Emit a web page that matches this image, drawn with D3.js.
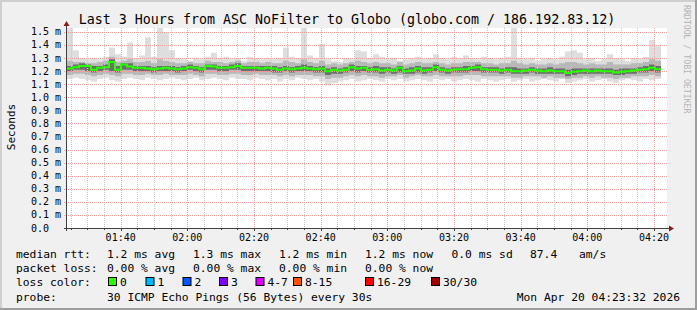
<!DOCTYPE html>
<html>
<head>
<meta charset="utf-8">
<script src="https://cdn.jsdelivr.net/npm/d3@7"></script>
<style>
  body { margin: 0; background: #f0f0f0; }
  svg { display: block; }
  text { font-family: "DejaVu Sans Mono", monospace; fill: #000; }
</style>
</head>
<body>
<div id="chart"></div>
<script>
// time window (UTC) and RRD step in seconds
const startTime = Date.UTC(2026, 3, 20, 1, 23, 54);
const spanSec = 3 * 3600;
const stepSec = 108;

// median rtt in ms
const median = [
  1.22, 1.23, 1.24, 1.24, 1.21, 1.225, 1.23, 1.27, 1.21, 1.25,
  1.235, 1.225, 1.225, 1.22, 1.215, 1.22, 1.225, 1.22, 1.215, 1.22,
  1.23, 1.225, 1.215, 1.24, 1.235, 1.225, 1.225, 1.23, 1.24, 1.225,
  1.225, 1.225, 1.22, 1.225, 1.22, 1.21, 1.22, 1.215, 1.22, 1.225,
  1.22, 1.215, 1.22, 1.20, 1.21, 1.205, 1.21, 1.23, 1.22, 1.225,
  1.21, 1.215, 1.205, 1.21, 1.205, 1.225, 1.20, 1.205, 1.22, 1.205,
  1.21, 1.23, 1.21, 1.205, 1.21, 1.215, 1.215, 1.225, 1.23, 1.215,
  1.21, 1.21, 1.205, 1.21, 1.20, 1.20, 1.205, 1.21, 1.205, 1.20,
  1.205, 1.20, 1.20, 1.185, 1.195, 1.20, 1.205, 1.20, 1.205, 1.20,
  1.20, 1.19, 1.195, 1.20, 1.205, 1.21, 1.215, 1.225, 1.215
];
// smoke: slowest / fastest ping
const pingMax = [
  1.53, 1.36, 1.30, 1.29, 1.30, 1.29, 1.31, 1.38, 1.33, 1.31,
  1.42, 1.30, 1.32, 1.46, 1.31, 1.53, 1.50, 1.36, 1.30, 1.29,
  1.28, 1.30, 1.29, 1.31, 1.34, 1.30, 1.31, 1.29, 1.30, 1.28,
  1.31, 1.30, 1.29, 1.30, 1.29, 1.30, 1.38, 1.31, 1.30, 1.53,
  1.32, 1.30, 1.41, 1.29, 1.28, 1.27, 1.30, 1.29, 1.36, 1.35,
  1.30, 1.33, 1.31, 1.29, 1.30, 1.28, 1.29, 1.30, 1.31, 1.29,
  1.30, 1.33, 1.30, 1.29, 1.31, 1.30, 1.32, 1.30, 1.29, 1.31,
  1.30, 1.29, 1.30, 1.31, 1.53, 1.30, 1.29, 1.30, 1.28, 1.29,
  1.30, 1.29, 1.31, 1.35, 1.36, 1.34, 1.29, 1.30, 1.28, 1.29,
  1.33, 1.30, 1.29, 1.28, 1.30, 1.29, 1.31, 1.44, 1.39
];
const pingMin = [
  1.14, 1.15, 1.14, 1.13, 1.12, 1.14, 1.15, 1.13, 1.12, 1.14,
  1.15, 1.14, 1.13, 1.15, 1.14, 1.13, 1.14, 1.15, 1.14, 1.13,
  1.14, 1.15, 1.13, 1.14, 1.15, 1.14, 1.13, 1.15, 1.14, 1.14,
  1.13, 1.15, 1.14, 1.13, 1.14, 1.12, 1.14, 1.13, 1.15, 1.14,
  1.13, 1.14, 1.12, 1.09, 1.11, 1.12, 1.13, 1.14, 1.12, 1.13,
  1.14, 1.13, 1.12, 1.14, 1.13, 1.14, 1.12, 1.13, 1.14, 1.13,
  1.12, 1.14, 1.13, 1.14, 1.12, 1.13, 1.14, 1.13, 1.12, 1.14,
  1.13, 1.12, 1.13, 1.14, 1.12, 1.13, 1.14, 1.12, 1.13, 1.14,
  1.13, 1.12, 1.14, 1.11, 1.12, 1.13, 1.14, 1.12, 1.13, 1.14,
  1.12, 1.11, 1.13, 1.14, 1.13, 1.12, 1.14, 1.13, 1.14
];
// smoke: ~10th / 90th percentile pings
const pingP90 = [
  1.28, 1.27, 1.27, 1.26, 1.26, 1.27, 1.28, 1.31, 1.27, 1.28,
  1.29, 1.27, 1.27, 1.28, 1.26, 1.29, 1.28, 1.27, 1.26, 1.26,
  1.27, 1.26, 1.26, 1.28, 1.27, 1.27, 1.26, 1.27, 1.28, 1.26,
  1.27, 1.27, 1.26, 1.27, 1.26, 1.26, 1.28, 1.27, 1.26, 1.29,
  1.27, 1.26, 1.28, 1.25, 1.26, 1.25, 1.26, 1.27, 1.28, 1.27,
  1.26, 1.27, 1.26, 1.26, 1.25, 1.27, 1.25, 1.26, 1.27, 1.26,
  1.26, 1.27, 1.26, 1.25, 1.26, 1.26, 1.27, 1.27, 1.27, 1.26,
  1.26, 1.25, 1.26, 1.26, 1.28, 1.26, 1.25, 1.26, 1.25, 1.25,
  1.26, 1.25, 1.26, 1.27, 1.27, 1.26, 1.25, 1.26, 1.25, 1.25,
  1.27, 1.25, 1.25, 1.25, 1.26, 1.26, 1.27, 1.29, 1.28
];
const pingP10 = [
  1.17, 1.18, 1.18, 1.17, 1.16, 1.17, 1.18, 1.17, 1.16, 1.18,
  1.18, 1.17, 1.17, 1.18, 1.17, 1.17, 1.18, 1.17, 1.17, 1.17,
  1.18, 1.17, 1.16, 1.18, 1.18, 1.17, 1.17, 1.18, 1.18, 1.17,
  1.17, 1.18, 1.17, 1.17, 1.17, 1.16, 1.17, 1.16, 1.17, 1.17,
  1.17, 1.16, 1.16, 1.14, 1.15, 1.15, 1.16, 1.17, 1.16, 1.17,
  1.16, 1.16, 1.15, 1.16, 1.16, 1.17, 1.15, 1.16, 1.17, 1.16,
  1.16, 1.17, 1.16, 1.16, 1.16, 1.16, 1.17, 1.17, 1.17, 1.16,
  1.16, 1.16, 1.16, 1.16, 1.15, 1.15, 1.16, 1.16, 1.16, 1.15,
  1.16, 1.15, 1.15, 1.14, 1.15, 1.15, 1.16, 1.15, 1.16, 1.15,
  1.15, 1.14, 1.15, 1.15, 1.16, 1.16, 1.16, 1.17, 1.16
];
// smoke: ~25th / 75th percentile pings
const pingP75 = [
  1.24, 1.25, 1.26, 1.25, 1.24, 1.24, 1.25, 1.29, 1.24, 1.26,
  1.26, 1.24, 1.24, 1.24, 1.23, 1.24, 1.24, 1.24, 1.23, 1.24,
  1.25, 1.24, 1.23, 1.25, 1.25, 1.24, 1.24, 1.25, 1.26, 1.24,
  1.24, 1.24, 1.24, 1.24, 1.24, 1.23, 1.24, 1.23, 1.24, 1.25,
  1.24, 1.23, 1.24, 1.22, 1.23, 1.22, 1.23, 1.25, 1.24, 1.24,
  1.23, 1.24, 1.23, 1.23, 1.22, 1.24, 1.22, 1.23, 1.24, 1.23,
  1.23, 1.25, 1.23, 1.22, 1.23, 1.23, 1.24, 1.24, 1.25, 1.23,
  1.23, 1.23, 1.22, 1.23, 1.23, 1.22, 1.22, 1.23, 1.22, 1.22,
  1.23, 1.22, 1.22, 1.21, 1.22, 1.22, 1.22, 1.22, 1.22, 1.22,
  1.22, 1.21, 1.22, 1.22, 1.22, 1.23, 1.24, 1.25, 1.24
];
const pingP25 = [
  1.20, 1.21, 1.21, 1.20, 1.19, 1.20, 1.21, 1.20, 1.19, 1.21,
  1.21, 1.20, 1.20, 1.20, 1.19, 1.20, 1.20, 1.20, 1.19, 1.20,
  1.21, 1.20, 1.19, 1.21, 1.21, 1.20, 1.20, 1.21, 1.21, 1.20,
  1.20, 1.20, 1.20, 1.20, 1.19, 1.19, 1.20, 1.19, 1.20, 1.20,
  1.20, 1.19, 1.19, 1.17, 1.18, 1.18, 1.19, 1.20, 1.19, 1.20,
  1.19, 1.19, 1.18, 1.19, 1.18, 1.19, 1.18, 1.18, 1.19, 1.18,
  1.19, 1.20, 1.19, 1.18, 1.19, 1.19, 1.19, 1.20, 1.20, 1.19,
  1.19, 1.19, 1.18, 1.19, 1.18, 1.18, 1.18, 1.19, 1.18, 1.18,
  1.18, 1.18, 1.18, 1.16, 1.17, 1.18, 1.18, 1.18, 1.18, 1.18,
  1.18, 1.17, 1.17, 1.18, 1.18, 1.19, 1.19, 1.20, 1.19
];

const yTickValues = [0, 0.1, 0.2, 0.3, 0.4, 0.5, 0.6, 0.7, 0.8, 0.9, 1.0, 1.1, 1.2, 1.3, 1.4, 1.5];

const statsRtt = ["1.2 ms avg", "1.3 ms max", "1.2 ms min", "1.2 ms now", "0.0 ms sd"];
const statsLoss = ["0.00 % avg", "0.00 % max", "0.00 % min", "0.00 % now"];
const amsValue = "87.4";
const lossLabels = ["0", "1", "2", "3", "4-7", "8-15", "16-29", "30/30"];
const lossColors = ["#26ff00", "#00b8ff", "#0059ff", "#7e00ff", "#dd00ff", "#ff5500", "#ff0000", "#a10000"];
const probeText = "30 ICMP Echo Pings (56 Bytes) every 30s";
const stampText = "Mon Apr 20 04:23:32 2026";
const titleText = "Last 3 Hours from ASC NoFilter to Globo (globo.com / 186.192.83.12)";

const W = 697, H = 310;
const plot = { left: 67, right: 667, top: 28, bottom: 228 };

const svg = d3.select("#chart").append("svg")
  .attr("width", W).attr("height", H);

// background and 3d frame
svg.append("rect").attr("width", W).attr("height", H).attr("fill", "#f0f0f0");
svg.append("path").attr("d", `M0,${H} V0 H${W}`).attr("fill", "none")
  .attr("stroke", "#cfcfcf").attr("stroke-width", 4);
svg.append("path").attr("d", `M0,${H} H${W} V0`).attr("fill", "none")
  .attr("stroke", "#9e9e9e").attr("stroke-width", 4);

svg.append("rect")
  .attr("x", plot.left).attr("y", plot.top)
  .attr("width", plot.right - plot.left).attr("height", plot.bottom - plot.top)
  .attr("fill", "#fff");

const x = d3.scaleUtc()
  .domain([new Date(startTime), new Date(startTime + spanSec * 1000)])
  .range([plot.left, plot.right]);
const y = d3.scaleLinear()
  .domain([0, 1.53])
  .range([plot.bottom, plot.top]);

// rows, plus one closing point so the last step has width
const rows = median.map((m, i) => ({
  t: new Date(startTime + i * stepSec * 1000),
  med: m, max: pingMax[i], min: pingMin[i],
  p90: pingP90[i], p10: pingP10[i], p75: pingP75[i], p25: pingP25[i]
}));
const last = rows[rows.length - 1];
rows.push({ ...last, t: new Date(+last.t + stepSec * 1000) });

const band = (lo, hi) => d3.area()
  .x(d => x(d.t)).y0(d => y(d[lo])).y1(d => y(d[hi]))
  .curve(d3.curveStepAfter);

const smoke = svg.append("g");
smoke.append("path").datum(rows).attr("d", band("min", "max")).attr("fill", "#dedede");
smoke.append("path").datum(rows).attr("d", band("p10", "p90")).attr("fill", "#b8b8b8");
smoke.append("path").datum(rows).attr("d", band("p25", "p75")).attr("fill", "#6e6e6e");

// grid
const grid = svg.append("g").attr("shape-rendering", "crispEdges");
const minorT = x.ticks(d3.utcMinute.every(5));
const majorT = x.ticks(d3.utcMinute.every(20));
const isMajor = t => majorT.some(m => +m === +t);
grid.selectAll("line.vmin").data(minorT.filter(t => !isMajor(t))).join("line")
  .attr("x1", d => Math.round(x(d)) + 0.5).attr("x2", d => Math.round(x(d)) + 0.5)
  .attr("y1", plot.top).attr("y2", plot.bottom)
  .attr("stroke", "#c8c8c8").attr("stroke-dasharray", "1,1");
grid.selectAll("line.vmaj").data(majorT).join("line")
  .attr("x1", d => Math.round(x(d)) + 0.5).attr("x2", d => Math.round(x(d)) + 0.5)
  .attr("y1", plot.top).attr("y2", plot.bottom)
  .attr("stroke", "#f2a0a0").attr("stroke-dasharray", "1,1");
grid.selectAll("line.h").data(yTickValues.slice(1)).join("line")
  .attr("x1", plot.left - 3).attr("x2", plot.right)
  .attr("y1", d => Math.round(y(d)) + 0.5).attr("y2", d => Math.round(y(d)) + 0.5)
  .attr("stroke", "#f2a0a0").attr("stroke-dasharray", "1,1");

// median line
svg.append("path").datum(rows)
  .attr("d", d3.line().x(d => x(d.t)).y(d => y(d.med)).curve(d3.curveStepAfter))
  .attr("fill", "none").attr("stroke", lossColors[0]).attr("stroke-width", 2);

// axes
const axisCol = "#404040";
svg.append("line").attr("x1", plot.left - 0.5).attr("x2", plot.left - 0.5)
  .attr("y1", plot.bottom + 3).attr("y2", plot.top - 3).attr("stroke", axisCol);
svg.append("line").attr("x1", plot.left - 3).attr("x2", plot.right + 3)
  .attr("y1", plot.bottom + 0.5).attr("y2", plot.bottom + 0.5).attr("stroke", axisCol);
svg.append("path")
  .attr("d", `M${plot.left - 3.5},${plot.top - 2} L${plot.left + 2.5},${plot.top - 2} L${plot.left - 0.5},${plot.top - 7} Z`)
  .attr("fill", "#8b1a1a");
svg.append("path")
  .attr("d", `M${plot.right + 2},${plot.bottom - 2.5} L${plot.right + 2},${plot.bottom + 3.5} L${plot.right + 7},${plot.bottom + 0.5} Z`)
  .attr("fill", "#8b1a1a");

// x ticks and labels
svg.selectAll("line.xt").data(minorT).join("line")
  .attr("x1", d => Math.round(x(d)) + 0.5).attr("x2", d => Math.round(x(d)) + 0.5)
  .attr("y1", plot.bottom).attr("y2", d => plot.bottom + (isMajor(d) ? 3 : 2))
  .attr("stroke", axisCol);
svg.selectAll("text.xl").data(majorT).join("text")
  .attr("x", d => x(d)).attr("y", 241)
  .attr("text-anchor", "middle").attr("font-size", 10)
  .text(d3.utcFormat("%H:%M"));

// y labels
svg.selectAll("text.yl").data(yTickValues).join("text")
  .attr("x", 31).attr("y", d => y(d) + 3.5)
  .attr("font-size", 10)
  .attr("xml:space", "preserve")
  .text(d => d === 0 ? "0.0" : d3.format(".1f")(d) + " m");

svg.append("text")
  .attr("transform", "translate(15,127) rotate(-90)")
  .attr("text-anchor", "middle").attr("font-size", 11)
  .text("Seconds");

svg.append("text")
  .attr("x", 347).attr("y", 24)
  .attr("text-anchor", "middle").attr("font-size", 13.3)
  .text(titleText);

svg.append("text")
  .attr("transform", "translate(683.5,5) rotate(90)")
  .attr("font-size", 8.2).style("fill", "#b4b4b4")
  .text("RRDTOOL / TOBI OETIKER");

// legend
const lg = svg.append("g").attr("font-size", 11.3).attr("xml:space", "preserve");
const colX = [107, 193, 279, 365, 451.5];
const rowY = [257.5, 272, 286, 300.5];

lg.append("text").attr("x", 16).attr("y", rowY[0]).text("median rtt:");
statsRtt.forEach((s, i) => lg.append("text").attr("x", colX[i]).attr("y", rowY[0]).text(s));
lg.append("text").attr("x", 530).attr("y", rowY[0]).text(amsValue);
lg.append("text").attr("x", 579).attr("y", rowY[0]).text("am/s");

lg.append("text").attr("x", 16).attr("y", rowY[1]).text("packet loss:");
statsLoss.forEach((s, i) => lg.append("text").attr("x", colX[i]).attr("y", rowY[1]).text(s));

lg.append("text").attr("x", 16).attr("y", rowY[2]).text("loss color:");
const boxX = [108, 145.5, 182.5, 219, 255.5, 293, 365, 431];
lossLabels.forEach((lab, i) => {
  lg.append("rect").attr("x", boxX[i] + 0.5).attr("y", rowY[2] - 8.5)
    .attr("width", 8).attr("height", 8)
    .attr("fill", lossColors[i]).attr("stroke", "#000");
  lg.append("text").attr("x", boxX[i] + 12).attr("y", rowY[2]).text(lab);
});

lg.append("text").attr("x", 16).attr("y", rowY[3]).text("probe:");
lg.append("text").attr("x", 107).attr("y", rowY[3]).text(probeText);
lg.append("text").attr("x", 680).attr("y", rowY[3]).attr("text-anchor", "end").text(stampText);
</script>
</body>
</html>
